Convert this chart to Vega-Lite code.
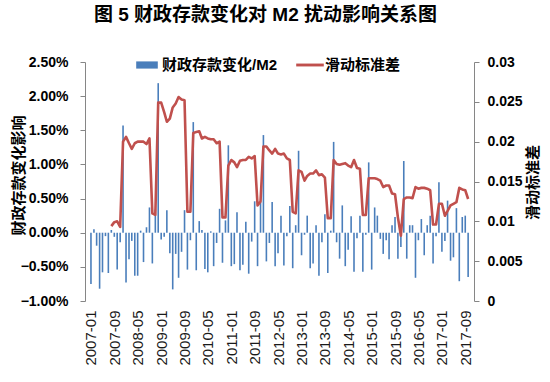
{
  "$schema": "https://vega.github.io/schema/vega-lite/v6.json",
  "width": 389,
  "height": 239,
  "autosize": {"type": "none"},
  "padding": {"left": 85, "top": 62, "right": 76, "bottom": 81},
  "background": "#ffffff",
  "config": {
    "font": "Liberation Sans, Noto Sans CJK SC",
    "view": {"stroke": null}
  },
  "title": {
    "text": "图 5 财政存款变化对 M2 扰动影响关系图",
    "fontSize": 19,
    "fontWeight": "bold",
    "color": "#000000",
    "anchor": "middle",
    "offset": 28,
    "dx": -14
  },
  "data": {
    "values": [
      {"month": "2007-01", "ratio": -0.0075, "std": null},
      {"month": "2007-02", "ratio": 0.0005, "std": null},
      {"month": "2007-03", "ratio": -0.0019, "std": null},
      {"month": "2007-04", "ratio": -0.0082, "std": null},
      {"month": "2007-05", "ratio": -0.0058, "std": null},
      {"month": "2007-06", "ratio": -0.0005, "std": null},
      {"month": "2007-07", "ratio": -0.0059, "std": null},
      {"month": "2007-08", "ratio": 0.0004, "std": 0.0094},
      {"month": "2007-09", "ratio": -0.0006, "std": 0.0099},
      {"month": "2007-10", "ratio": -0.0054, "std": 0.0100},
      {"month": "2007-11", "ratio": -0.0014, "std": 0.0093},
      {"month": "2007-12", "ratio": 0.0157, "std": 0.0200},
      {"month": "2008-01", "ratio": -0.0073, "std": 0.0206},
      {"month": "2008-02", "ratio": -0.0039, "std": 0.0198},
      {"month": "2008-03", "ratio": -0.0012, "std": 0.0191},
      {"month": "2008-04", "ratio": -0.0063, "std": 0.0198},
      {"month": "2008-05", "ratio": -0.0063, "std": 0.0200},
      {"month": "2008-06", "ratio": 0.0003, "std": 0.0200},
      {"month": "2008-07", "ratio": -0.0043, "std": 0.0200},
      {"month": "2008-08", "ratio": 0.0008, "std": 0.0197},
      {"month": "2008-09", "ratio": 0.0037, "std": 0.0204},
      {"month": "2008-10", "ratio": -0.0045, "std": 0.0110},
      {"month": "2008-11", "ratio": 0.0034, "std": 0.0108},
      {"month": "2008-12", "ratio": 0.0219, "std": 0.0249},
      {"month": "2009-01", "ratio": -0.0010, "std": 0.0249},
      {"month": "2009-02", "ratio": -0.0006, "std": 0.0237},
      {"month": "2009-03", "ratio": 0.0033, "std": 0.0225},
      {"month": "2009-04", "ratio": -0.0030, "std": 0.0229},
      {"month": "2009-05", "ratio": -0.0083, "std": 0.0243},
      {"month": "2009-06", "ratio": -0.0031, "std": 0.0248},
      {"month": "2009-07", "ratio": -0.0066, "std": 0.0256},
      {"month": "2009-08", "ratio": -0.0028, "std": 0.0253},
      {"month": "2009-09", "ratio": 0.0033, "std": 0.0252},
      {"month": "2009-10", "ratio": -0.0054, "std": 0.0112},
      {"month": "2009-11", "ratio": -0.0011, "std": 0.0112},
      {"month": "2009-12", "ratio": 0.0162, "std": 0.0211},
      {"month": "2010-01", "ratio": -0.0055, "std": 0.0212},
      {"month": "2010-02", "ratio": 0.0017, "std": 0.0213},
      {"month": "2010-03", "ratio": 0.0004, "std": 0.0204},
      {"month": "2010-04", "ratio": -0.0053, "std": 0.0206},
      {"month": "2010-05", "ratio": -0.0058, "std": 0.0204},
      {"month": "2010-06", "ratio": 0.0002, "std": 0.0203},
      {"month": "2010-07", "ratio": -0.0049, "std": 0.0203},
      {"month": "2010-08", "ratio": -0.0015, "std": 0.0198},
      {"month": "2010-09", "ratio": 0.0035, "std": 0.0200},
      {"month": "2010-10", "ratio": -0.0044, "std": 0.0105},
      {"month": "2010-11", "ratio": 0.0018, "std": 0.0105},
      {"month": "2010-12", "ratio": 0.0128, "std": 0.0170},
      {"month": "2011-01", "ratio": -0.0049, "std": 0.0177},
      {"month": "2011-02", "ratio": -0.0046, "std": 0.0174},
      {"month": "2011-03", "ratio": 0.0030, "std": 0.0168},
      {"month": "2011-04", "ratio": -0.0055, "std": 0.0176},
      {"month": "2011-05", "ratio": -0.0047, "std": 0.0177},
      {"month": "2011-06", "ratio": 0.0016, "std": 0.0177},
      {"month": "2011-07", "ratio": -0.0060, "std": 0.0181},
      {"month": "2011-08", "ratio": -0.0013, "std": 0.0179},
      {"month": "2011-09", "ratio": 0.0046, "std": 0.0182},
      {"month": "2011-10", "ratio": -0.0049, "std": 0.0120},
      {"month": "2011-11", "ratio": 0.0045, "std": 0.0125},
      {"month": "2011-12", "ratio": 0.0143, "std": 0.0194},
      {"month": "2012-01", "ratio": -0.0042, "std": 0.0194},
      {"month": "2012-02", "ratio": -0.0015, "std": 0.0189},
      {"month": "2012-03", "ratio": 0.0045, "std": 0.0185},
      {"month": "2012-04", "ratio": -0.0049, "std": 0.0191},
      {"month": "2012-05", "ratio": -0.0030, "std": 0.0185},
      {"month": "2012-06", "ratio": 0.0025, "std": 0.0184},
      {"month": "2012-07", "ratio": -0.0048, "std": 0.0185},
      {"month": "2012-08", "ratio": -0.0005, "std": 0.0179},
      {"month": "2012-09", "ratio": 0.0039, "std": 0.0177},
      {"month": "2012-10", "ratio": -0.0052, "std": 0.0112},
      {"month": "2012-11", "ratio": 0.0011, "std": 0.0110},
      {"month": "2012-12", "ratio": 0.0120, "std": 0.0164},
      {"month": "2013-01", "ratio": -0.0033, "std": 0.0162},
      {"month": "2013-02", "ratio": -0.0003, "std": 0.0151},
      {"month": "2013-03", "ratio": 0.0025, "std": 0.0157},
      {"month": "2013-04", "ratio": -0.0052, "std": 0.0160},
      {"month": "2013-05", "ratio": -0.0045, "std": 0.0160},
      {"month": "2013-06", "ratio": 0.0011, "std": 0.0164},
      {"month": "2013-07", "ratio": -0.0063, "std": 0.0158},
      {"month": "2013-08", "ratio": -0.0014, "std": 0.0159},
      {"month": "2013-09", "ratio": 0.0027, "std": 0.0155},
      {"month": "2013-10", "ratio": -0.0059, "std": 0.0104},
      {"month": "2013-11", "ratio": 0.0003, "std": 0.0104},
      {"month": "2013-12", "ratio": 0.0133, "std": 0.0177},
      {"month": "2014-01", "ratio": -0.0014, "std": 0.0172},
      {"month": "2014-02", "ratio": -0.0038, "std": 0.0171},
      {"month": "2014-03", "ratio": 0.0040, "std": 0.0172},
      {"month": "2014-04", "ratio": -0.0049, "std": 0.0173},
      {"month": "2014-05", "ratio": -0.0025, "std": 0.0170},
      {"month": "2014-06", "ratio": 0.0024, "std": 0.0168},
      {"month": "2014-07", "ratio": -0.0057, "std": 0.0177},
      {"month": "2014-08", "ratio": -0.0008, "std": 0.0167},
      {"month": "2014-09", "ratio": 0.0025, "std": 0.0166},
      {"month": "2014-10", "ratio": -0.0057, "std": 0.0108},
      {"month": "2014-11", "ratio": -0.0003, "std": 0.0108},
      {"month": "2014-12", "ratio": 0.0103, "std": 0.0154},
      {"month": "2015-01", "ratio": -0.0054, "std": 0.0154},
      {"month": "2015-02", "ratio": 0.0037, "std": 0.0154},
      {"month": "2015-03", "ratio": 0.0025, "std": 0.0153},
      {"month": "2015-04", "ratio": -0.0009, "std": 0.0151},
      {"month": "2015-05", "ratio": -0.0031, "std": 0.0143},
      {"month": "2015-06", "ratio": -0.0011, "std": 0.0145},
      {"month": "2015-07", "ratio": -0.0039, "std": 0.0145},
      {"month": "2015-08", "ratio": 0.0011, "std": 0.0135},
      {"month": "2015-09", "ratio": 0.0023, "std": 0.0134},
      {"month": "2015-10", "ratio": -0.0038, "std": 0.0105},
      {"month": "2015-11", "ratio": -0.0021, "std": 0.0082},
      {"month": "2015-12", "ratio": 0.0105, "std": 0.0128},
      {"month": "2016-01", "ratio": -0.0038, "std": 0.0130},
      {"month": "2016-02", "ratio": 0.0011, "std": 0.0130},
      {"month": "2016-03", "ratio": 0.0011, "std": 0.0129},
      {"month": "2016-04", "ratio": -0.0066, "std": 0.0143},
      {"month": "2016-05", "ratio": -0.0011, "std": 0.0141},
      {"month": "2016-06", "ratio": 0.0020, "std": 0.0142},
      {"month": "2016-07", "ratio": -0.0033, "std": 0.0142},
      {"month": "2016-08", "ratio": 0.0011, "std": 0.0141},
      {"month": "2016-09", "ratio": 0.0025, "std": 0.0139},
      {"month": "2016-10", "ratio": -0.0045, "std": 0.0096},
      {"month": "2016-11", "ratio": -0.0005, "std": 0.0096},
      {"month": "2016-12", "ratio": 0.0074, "std": 0.0122},
      {"month": "2017-01", "ratio": -0.0028, "std": 0.0122},
      {"month": "2017-02", "ratio": -0.0012, "std": 0.0107},
      {"month": "2017-03", "ratio": 0.0047, "std": 0.0113},
      {"month": "2017-04", "ratio": -0.0041, "std": 0.0120},
      {"month": "2017-05", "ratio": -0.0036, "std": 0.0122},
      {"month": "2017-06", "ratio": 0.0036, "std": 0.0124},
      {"month": "2017-07", "ratio": -0.0071, "std": 0.0142},
      {"month": "2017-08", "ratio": 0.0023, "std": 0.0140},
      {"month": "2017-09", "ratio": 0.0025, "std": 0.0139},
      {"month": "2017-10", "ratio": -0.0065, "std": 0.0128}
    ]
  },
  "encoding": {
    "x": {
      "field": "month",
      "type": "temporal",
      "scale": {
        "type": "utc",
        "domain": [
          {"year": 2006, "month": 12, "date": 22, "utc": true},
          {"year": 2017, "month": 10, "date": 10, "utc": true}
        ]
      },
      "axis": {
        "title": null,
        "format": "%Y-%m",
        "labelAngle": 270,
        "labelFontSize": 15,
        "labelColor": "#1a1a1a",
        "labelPadding": 9,
        "ticks": false,
        "tickSize": 0,
        "domain": false,
        "grid": false,
        "labelOverlap": false,
        "values": [
          {"year": 2007, "month": 1, "date": 1, "utc": true},
          {"year": 2007, "month": 9, "date": 1, "utc": true},
          {"year": 2008, "month": 5, "date": 1, "utc": true},
          {"year": 2009, "month": 1, "date": 1, "utc": true},
          {"year": 2009, "month": 9, "date": 1, "utc": true},
          {"year": 2010, "month": 5, "date": 1, "utc": true},
          {"year": 2011, "month": 1, "date": 1, "utc": true},
          {"year": 2011, "month": 9, "date": 1, "utc": true},
          {"year": 2012, "month": 5, "date": 1, "utc": true},
          {"year": 2013, "month": 1, "date": 1, "utc": true},
          {"year": 2013, "month": 9, "date": 1, "utc": true},
          {"year": 2014, "month": 5, "date": 1, "utc": true},
          {"year": 2015, "month": 1, "date": 1, "utc": true},
          {"year": 2015, "month": 9, "date": 1, "utc": true},
          {"year": 2016, "month": 5, "date": 1, "utc": true},
          {"year": 2017, "month": 1, "date": 1, "utc": true},
          {"year": 2017, "month": 9, "date": 1, "utc": true}
        ]
      }
    }
  },
  "layer": [
    {
      "mark": {"type": "bar", "size": 1.6},
      "encoding": {
        "y": {
          "field": "ratio",
          "type": "quantitative",
          "scale": {"domain": [-0.01, 0.025], "nice": false, "zero": true},
          "axis": {
            "orient": "left",
            "title": "财政存款变化影响",
            "titleFontSize": 15,
            "titleFontWeight": "bold",
            "titleColor": "#000000",
            "titleAngle": 270,
            "titleBaseline": "middle",
            "titleX": -67,
            "titleY": 113,
            "values": [-0.01, -0.005, 0, 0.005, 0.01, 0.015, 0.02, 0.025],
            "format": ".2%",
            "labelOverlap": false,
            "labelFlush": false,
            "labelFontSize": 14,
            "labelFontWeight": "bold",
            "labelColor": "#000000",
            "labelPadding": 12,
            "tickSize": 5,
            "tickColor": "#868686",
            "domainColor": "#868686",
            "grid": false
          }
        },
        "color": {
          "datum": "财政存款变化/M2",
          "type": "nominal",
          "scale": {
            "domain": ["财政存款变化/M2", "滑动标准差"],
            "range": ["#4a7ebb", "#c0504d"]
          },
          "legend": {
            "orient": "none",
            "direction": "horizontal",
            "legendX": 50,
            "legendY": -9,
            "title": null,
            "labelFontSize": 15,
            "labelFontWeight": "bold",
            "labelColor": "#000000",
            "symbolSize": 576,
            "columnPadding": 18,
            "labelOffset": 3,
            "symbolType": "M-0.9,-0.3H0.9V0.3H-0.9Z",
            "symbolStrokeWidth": 0,
            "symbolOpacity": 1,
            "encode": {
              "symbols": {
                "update": {
                  "shape": {"signal": "datum.value === '滑动标准差' ? 'M-1.15,-0.12H1.15V0.12H-1.15Z' : 'M-0.9,-0.3H0.9V0.3H-0.9Z'"}
                }
              }
            }
          }
        }
      }
    },
    {
      "mark": {"type": "rule", "color": "#a6a6a6", "strokeWidth": 1.5},
      "encoding": {
        "y": {
          "datum": 0,
          "type": "quantitative",
          "scale": {"domain": [-0.01, 0.025], "nice": false},
          "axis": null
        }
      }
    },
    {
      "mark": {"type": "line", "strokeWidth": 2.6, "strokeJoin": "round"},
      "encoding": {
        "y": {
          "field": "std",
          "type": "quantitative",
          "scale": {"domain": [0, 0.03], "nice": false},
          "axis": {
            "orient": "right",
            "title": "滑动标准差",
            "titleFontSize": 15,
            "titleFontWeight": "bold",
            "titleColor": "#000000",
            "titleAngle": 270,
            "titleBaseline": "middle",
            "titleX": 58,
            "titleY": 120,
            "values": [0, 0.005, 0.01, 0.015, 0.02, 0.025, 0.03],
            "format": "~g",
            "labelFontSize": 14,
            "labelFontWeight": "bold",
            "labelColor": "#000000",
            "labelPadding": 8,
            "tickSize": 5,
            "tickColor": "#868686",
            "domainColor": "#868686",
            "grid": false
          }
        },
        "color": {"datum": "滑动标准差", "type": "nominal", "legend": null}
      }
    }
  ],
  "resolve": {"scale": {"y": "independent"}}
}
